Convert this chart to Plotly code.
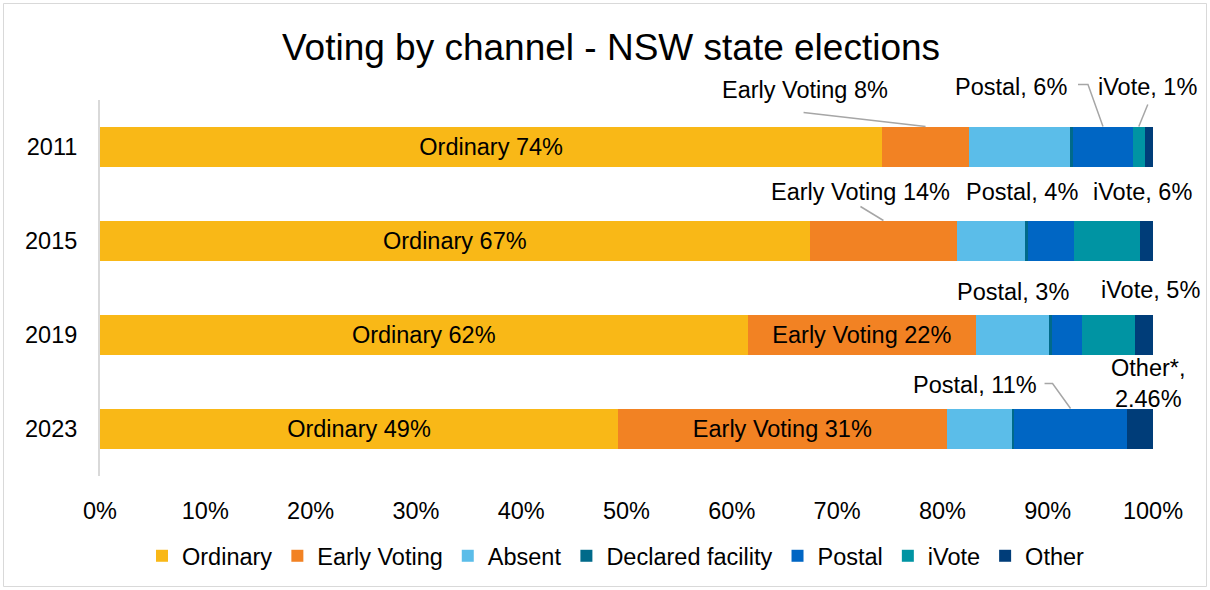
import plotly.graph_objects as go

# ---------------- data ----------------
years = ["2011", "2015", "2019", "2023"]
ordinary = [74.3, 67.4, 61.5, 49.2]
early_voting = [8.2, 14.0, 21.7, 31.2]
absent = [9.6, 6.4, 6.9, 6.3]
declared_facility = [0.3, 0.3, 0.3, 0.1]
postal = [5.7, 4.4, 2.9, 10.74]
ivote = [1.1, 6.3, 5.0, 0.0]
other = [0.8, 1.2, 1.7, 2.46]

series_names = ["Ordinary", "Early Voting", "Absent", "Declared facility",
                "Postal", "iVote", "Other"]
series_values = [ordinary, early_voting, absent, declared_facility,
                 postal, ivote, other]
series_colors = ["#F9B817", "#F28223", "#5BBDE9", "#006A8A",
                 "#0066C4", "#0094A3", "#003D79"]
x_ticks = list(range(0, 101, 10))
title_text = "Voting by channel - NSW state elections"

# ---------------- layout constants ----------------
W, H = 1210, 590
M_L, M_R, M_T, M_B = 100, 57, 100, 114
PW, PH = W - M_L - M_R, H - M_T - M_B
BAR_W = 0.436
FONT = "Liberation Sans, Arial, sans-serif"
TXT = 23.5
LEADER = "#A6A6A6"


def xp(val, dx=0.0):
    return val / 100.0 + dx / PW


def yp(idx, dy=0.0):
    return (3.5 - idx) / 4.0 + dy / PH


def seg_center(s, i):
    start = sum(series_values[k][i] for k in range(s))
    return start + series_values[s][i] / 2.0


# ---------------- bars ----------------
fig = go.Figure()
inside_text = {
    0: [f"Ordinary {v:.0f}%" for v in ordinary],
    1: ["", ""] + [f"Early Voting {v:.0f}%" for v in early_voting[2:]],
}
for s, (name, vals, col) in enumerate(zip(series_names, series_values, series_colors)):
    kw = {}
    if s in inside_text:
        kw = dict(text=inside_text[s], textposition="inside",
                  insidetextanchor="middle", textangle=0,
                  constraintext="none",
                  textfont=dict(size=TXT, color="#000000", family=FONT))
    fig.add_trace(go.Bar(
        y=years, x=vals, name=name, orientation="h",
        marker=dict(color=col, line=dict(width=0)),
        hoverinfo="name+x", **kw))

# ---------------- outside labels & leaders ----------------
S = {n: k for k, n in enumerate(series_names)}
labels = [
    # (series, year idx, text, text offset (px), leader points (px) relative to segment top centre)
    ("Early Voting", 0, f"Early Voting {early_voting[0]:.0f}%", (-121, 37), [(-122, 14), (0, 0)]),
    ("Postal", 0, f"Postal, {postal[0]:.0f}%", (-92, 40), [(-25, 42), (-15, 42), (0, 0)]),
    ("iVote", 0, f"iVote, {ivote[0]:.0f}%", (9, 40), [(9, 22), (0, 0)]),
    ("Early Voting", 1, f"Early Voting {early_voting[1]:.0f}%", (-23, 29), [(-23, 14), (0, 0)]),
    ("Postal", 1, f"Postal, {postal[1]:.0f}%", (-29, 29), None),
    ("iVote", 1, f"iVote, {ivote[1]:.0f}%", (35, 29), None),
    ("Postal", 2, f"Postal, {postal[2]:.0f}%", (-54, 23), None),
    ("iVote", 2, f"iVote, {ivote[2]:.0f}%", (42, 25), None),
    ("Postal", 3, f"Postal, {postal[3]:.0f}%", (-96, 24), [(-26, 25), (-18, 25), (0, 0)]),
    ("Other", 3, f"Other*,<br>{other[3]:.2f}%", (8, 25), None),
]
half_bar_px = (BAR_W / 2.0) * PH / 4.0

annotations = []
shapes = []
for sname, i, text, (tx, ty), pts in labels:
    cx = seg_center(S[sname], i)
    top_dy = half_bar_px
    annotations.append(dict(
        xref="paper", yref="paper",
        x=xp(cx, tx), y=yp(i, top_dy + ty),
        text=text, showarrow=False, xanchor="center", yanchor="middle",
        font=dict(size=TXT, color="#000000", family=FONT)))
    if pts:
        path = ""
        for k, (dx, dy) in enumerate(pts):
            path += ("M" if k == 0 else "L") + f"{xp(cx, dx)},{yp(i, top_dy + dy)}"
        shapes.append(dict(type="path", xref="paper", yref="paper", path=path,
                           line=dict(color=LEADER, width=1.5)))

# chart border
shapes.append(dict(type="rect", xref="paper", yref="paper",
                   x0=(3.5 - M_L) / PW, x1=(W - 3.5 - M_L) / PW,
                   y0=(PH - (H - 3.5 - M_T)) / PH, y1=(PH - (3.5 - M_T)) / PH,
                   line=dict(color="#D9D9D9", width=1), layer="below"))

fig.update_layout(
    width=W, height=H,
    margin=dict(l=M_L, r=M_R, t=M_T, b=M_B, pad=0),
    barmode="stack", bargap=1 - BAR_W,
    plot_bgcolor="white", paper_bgcolor="white",
    font=dict(family=FONT, size=TXT, color="#000000"),
    title=dict(text=title_text, x=611 / W, xanchor="center",
               y=1 - 47 / H, yanchor="middle",
               font=dict(size=37, color="#000000", family=FONT)),
    xaxis=dict(range=[0, 100], tickvals=x_ticks, ticktext=[f"{t}%" for t in x_ticks],
               showgrid=False, zeroline=False, showline=False,
               ticks="outside", ticklen=14, tickcolor="rgba(0,0,0,0)",
               tickfont=dict(size=TXT, color="#000000", family=FONT), fixedrange=True),
    yaxis=dict(categoryorder="array", categoryarray=years, range=[3.5, -0.5],
               showgrid=False, zeroline=False, showline=True,
               linecolor="#D9D9D9", linewidth=2,
               ticks="outside", ticklen=16, tickcolor="rgba(0,0,0,0)",
               tickfont=dict(size=TXT, color="#000000", family=FONT), fixedrange=True),
    legend=dict(orientation="h", x=(616 - M_L) / PW, xanchor="center",
                y=(PH - (556 - M_T)) / PH, yanchor="middle",
                font=dict(size=TXT, color="#000000", family=FONT),
                itemwidth=30, traceorder="normal", bgcolor="rgba(0,0,0,0)"),
    annotations=annotations, shapes=shapes,
    showlegend=True,
)

fig.write_html("out.html", config={"displayModeBar": False},
               post_script="document.body.style.margin='0';")
